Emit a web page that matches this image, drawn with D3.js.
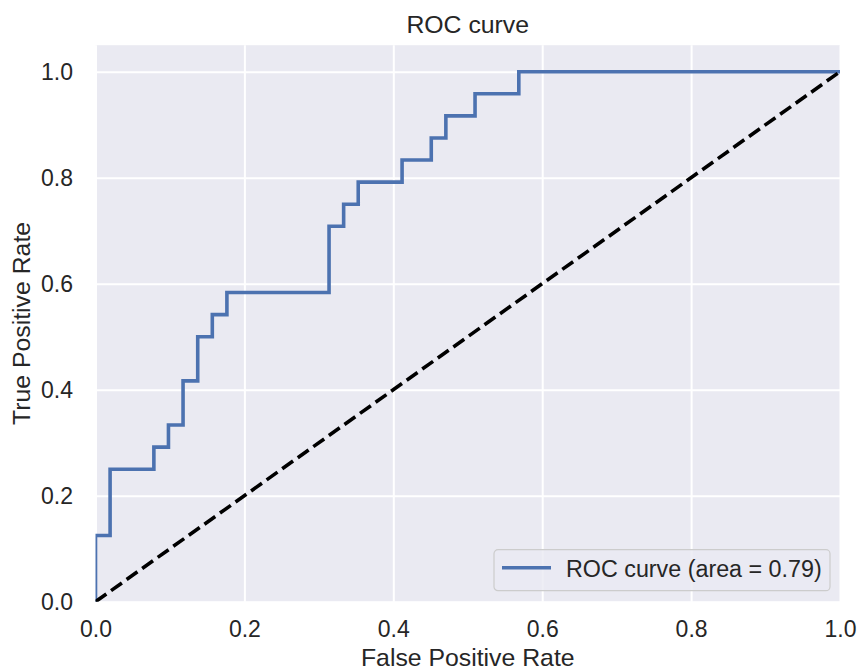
<!DOCTYPE html>
<html>
<head>
<meta charset="utf-8">
<script src="https://cdn.jsdelivr.net/npm/d3@7"></script>
<style>
  html, body { margin: 0; padding: 0; background: #fff; }
  svg { display: block; font-family: "Liberation Sans", Arial, sans-serif; }
</style>
</head>
<body>
<svg id="chart" width="858" height="671"></svg>
<script>
// data
const fpr = [0, 0, 0.0196, 0.0196, 0.0784, 0.0784, 0.098, 0.098, 0.1176, 0.1176,
  0.1373, 0.1373, 0.1569, 0.1569, 0.1765, 0.1765, 0.3137, 0.3137, 0.3333, 0.3333,
  0.3529, 0.3529, 0.4118, 0.4118, 0.451, 0.451, 0.4706, 0.4706, 0.5098, 0.5098,
  0.5686, 0.5686, 1];
const tpr = [0, 0.125, 0.125, 0.25, 0.25, 0.2917, 0.2917, 0.3333, 0.3333, 0.4167,
  0.4167, 0.5, 0.5, 0.5417, 0.5417, 0.5833, 0.5833, 0.7083, 0.7083, 0.75,
  0.75, 0.7917, 0.7917, 0.8333, 0.8333, 0.875, 0.875, 0.9167, 0.9167, 0.9583,
  0.9583, 1, 1];
const chanceX = [0, 1];
const chanceY = [0, 1];
const xTicks = [0, 0.2, 0.4, 0.6, 0.8, 1.0];
const yTicks = [0, 0.2, 0.4, 0.6, 0.8, 1.0];
const title = 'ROC curve';
const xLabel = 'False Positive Rate';
const yLabel = 'True Positive Rate';
const legendLabel = 'ROC curve (area = 0.79)';

const W = 858, H = 671;
const margin = { top: 45.2, right: 18, bottom: 69.3, left: 95.5 };
const width = W - margin.left - margin.right;
const height = H - margin.top - margin.bottom;
const text = '#262626';
const blue = '#4c72b0';

const svg = d3.select('#chart');
const g = svg.append('g').attr('transform', `translate(${margin.left},${margin.top})`);

const x = d3.scaleLinear().domain([0, 1]).range([0, width]);
const y = d3.scaleLinear().domain([0, 1.05]).range([height, 0]);

g.append('rect').attr('width', width).attr('height', height).attr('fill', '#eaeaf2');

// grid
const xg = g.append('g').attr('transform', `translate(0,${height})`)
  .call(d3.axisBottom(x).tickValues(xTicks).tickSize(-height).tickFormat(''));
const yg = g.append('g')
  .call(d3.axisLeft(y).tickValues(yTicks).tickSize(-width).tickFormat(''));
[xg, yg].forEach(a => {
  a.select('.domain').remove();
  a.selectAll('line').attr('stroke', '#fff').attr('stroke-width', 2);
});

// tick labels
const xl = g.append('g').attr('transform', `translate(0,${height})`)
  .call(d3.axisBottom(x).tickValues(xTicks).tickSize(0).tickPadding(35).tickFormat(d3.format('.1f')));
const yl = g.append('g')
  .call(d3.axisLeft(y).tickValues(yTicks).tickSize(0).tickPadding(22.5).tickFormat(d3.format('.1f')));
[xl, yl].forEach(a => {
  a.select('.domain').remove();
  a.selectAll('text').attr('fill', text).style('font-size', '23px')
    .style('font-family', '"Liberation Sans", Arial, sans-serif');
});
xl.selectAll('text').attr('dy', 0).attr('y', 35.5);

// curves
const clip = svg.append('clipPath').attr('id', 'clip')
  .append('rect').attr('width', width).attr('height', height);
const plot = g.append('g').attr('clip-path', 'url(#clip)');

const line = d3.line().x(d => x(d[0])).y(d => y(d[1]));
plot.append('path')
  .datum(d3.zip(fpr, tpr))
  .attr('d', line)
  .attr('fill', 'none').attr('stroke', blue).attr('stroke-width', 3.6)
  .attr('stroke-linejoin', 'miter').attr('stroke-linecap', 'square');

plot.append('path')
  .datum(d3.zip(chanceX, chanceY))
  .attr('d', line)
  .attr('fill', 'none').attr('stroke', '#000').attr('stroke-width', 3.6)
  .attr('stroke-dasharray', '13.3,5.8');

// legend
const lg = g.append('g').attr('transform', `translate(${width - 346},${height - 52})`);
lg.append('rect').attr('width', 336).attr('height', 41).attr('rx', 4)
  .attr('fill', '#eaeaf2').attr('fill-opacity', 0.8)
  .attr('stroke', '#cccccc').attr('stroke-width', 1.2);
lg.append('line').attr('x1', 8).attr('x2', 57).attr('y1', 18).attr('y2', 18)
  .attr('stroke', blue).attr('stroke-width', 3.6);
lg.append('text').attr('x', 72).attr('y', 27)
  .attr('fill', text).style('font-size', '23.3px').text(legendLabel);

// titles
svg.append('text').attr('x', margin.left + width / 2).attr('y', 33)
  .attr('text-anchor', 'middle').attr('fill', text).style('font-size', '24.8px').text(title);
svg.append('text').attr('x', margin.left + width / 2).attr('y', 665.5)
  .attr('text-anchor', 'middle').attr('fill', text).style('font-size', '24.8px').text(xLabel);
svg.append('text')
  .attr('transform', `translate(30,${margin.top + height / 2}) rotate(-90)`)
  .attr('text-anchor', 'middle').attr('fill', text).style('font-size', '24.8px').text(yLabel);
</script>
</body>
</html>
